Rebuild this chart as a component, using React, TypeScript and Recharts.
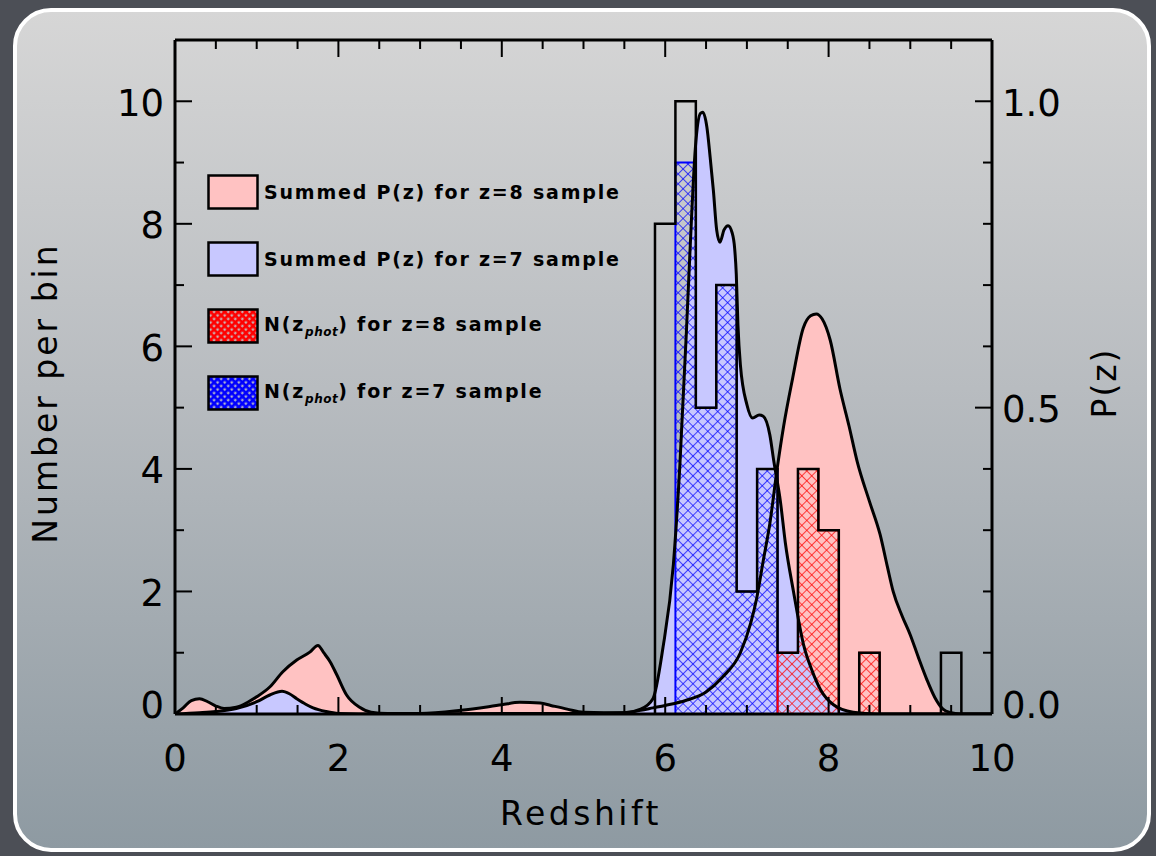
import React from 'react';
import { ComposedChart, Area, Line, XAxis, YAxis } from 'recharts';

// Summed P(z), z=8 sample
const PZ8_Z = [0, 0.1, 0.2, 0.3, 0.4, 0.5, 0.6, 0.75, 0.9, 1.0, 1.16, 1.32, 1.49, 1.65, 1.75, 1.82, 1.9, 1.98, 2.1, 2.26, 2.4, 2.6, 3.0, 3.5, 4.0, 4.22, 4.47, 4.6, 4.8, 5.0, 5.5, 5.7, 5.85, 6.0, 6.25, 6.5, 6.7, 6.92, 7.05, 7.12, 7.2, 7.28, 7.37, 7.45, 7.56, 7.69, 7.78, 7.85, 7.92, 8.02, 8.14, 8.25, 8.35, 8.5, 8.63, 8.72, 8.79, 8.9, 9.0, 9.1, 9.2, 9.3, 9.4, 9.5, 9.6, 10];
const PZ8_P = [0, 0.010, 0.022, 0.025, 0.020, 0.013, 0.009, 0.011, 0.020, 0.028, 0.044, 0.069, 0.088, 0.101, 0.112, 0.100, 0.085, 0.064, 0.031, 0.011, 0.003, 0.001, 0.001, 0.006, 0.015, 0.019, 0.018, 0.014, 0.008, 0.003, 0.002, 0.006, 0.010, 0.014, 0.022, 0.036, 0.060, 0.100, 0.150, 0.189, 0.250, 0.310, 0.400, 0.470, 0.548, 0.630, 0.650, 0.653, 0.645, 0.610, 0.530, 0.470, 0.412, 0.347, 0.293, 0.240, 0.200, 0.160, 0.129, 0.092, 0.057, 0.027, 0.008, 0.002, 0, 0];

// Summed P(z), z=7 sample
const PZ7_Z = [0, 0.3, 0.5, 0.75, 1.0, 1.16, 1.31, 1.4, 1.49, 1.6, 1.69, 1.85, 2.0, 2.5, 5.0, 5.5, 5.7, 5.85, 5.97, 6.1, 6.18, 6.26, 6.3, 6.37, 6.43, 6.46, 6.51, 6.55, 6.59, 6.63, 6.67, 6.72, 6.77, 6.82, 6.85, 6.87, 6.89, 6.92, 7.0, 7.07, 7.15, 7.2, 7.28, 7.33, 7.41, 7.47, 7.57, 7.69, 7.8, 7.9, 8.06, 8.3, 8.6, 10];
const PZ7_P = [0, 0.002, 0.004, 0.009, 0.020, 0.031, 0.037, 0.033, 0.025, 0.016, 0.010, 0.004, 0.001, 0, 0.001, 0.002, 0.008, 0.025, 0.106, 0.244, 0.407, 0.625, 0.745, 0.925, 0.980, 0.982, 0.958, 0.909, 0.854, 0.790, 0.770, 0.790, 0.797, 0.785, 0.760, 0.718, 0.636, 0.570, 0.505, 0.483, 0.488, 0.486, 0.456, 0.412, 0.347, 0.280, 0.200, 0.115, 0.070, 0.040, 0.015, 0.003, 0, 0];

// histogrammes N(z_phot), bins de 0.25
const BIN_W = 0.25;
const BIN_CENTRES = [6.0, 6.25, 6.5, 6.75, 7.0, 7.25, 7.5, 7.75, 8.0, 8.25, 8.5, 8.75, 9.0, 9.25, 9.5];
const N_ALL = [8, 10, 5, 7, 2, 4, 1, 4, 3, 0, 1, 0, 0, 0, 1];
const N_Z7 = [0, 9, 5, 7, 2, 4, 0, 0, 0, 0, 0, 0, 0, 0, 0];
const N_Z8 = [0, 0, 0, 0, 0, 0, 1, 4, 3, 0, 1, 0, 0, 0, 0];

const X_TICKS = [0, 0.5, 1, 1.5, 2, 2.5, 3, 3.5, 4, 4.5, 5, 5.5, 6, 6.5, 7, 7.5, 8, 8.5, 9, 9.5, 10];
const N_TICKS = [0, 1, 2, 3, 4, 5, 6, 7, 8, 9, 10];
const P_TICKS = [0, 0.1, 0.2, 0.3, 0.4, 0.5, 0.6, 0.7, 0.8, 0.9, 1.0];

const LEGEND = [
  { kind: 'pink', label: 'Summed P(z) for z=8 sample' },
  { kind: 'lblue', label: 'Summed P(z) for z=7 sample' },
  { kind: 'red', label: 'N(z', sub: 'phot', rest: ') for z=8 sample' },
  { kind: 'blue', label: 'N(z', sub: 'phot', rest: ') for z=7 sample' },
];

const FONT = '"DejaVu Sans", sans-serif';
const PINK = '#ffc2c2';
const LBLUE = '#c8c8ff';

const pz8 = PZ8_Z.map((z, i) => ({ z, p: PZ8_P[i] }));
const pz7 = PZ7_Z.map((z, i) => ({ z, p: PZ7_P[i] }));

function stepData(counts: number[]) {
  const pts = [{ z: BIN_CENTRES[0] - BIN_W / 2, n: 0 }];
  BIN_CENTRES.forEach((c, i) => pts.push({ z: c - BIN_W / 2, n: counts[i] }));
  pts.push({ z: BIN_CENTRES[BIN_CENTRES.length - 1] + BIN_W / 2, n: 0 });
  return pts;
}
const histAll = stepData(N_ALL);
const histZ7 = stepData(N_Z7);
const histZ8 = stepData(N_Z8);

// ─── ticks vers l'intérieur, façon IDL ───────────────────────────────────
function BottomTick(props: any) {
  const { x, y, payload } = props;
  const v = payload.value;
  const major = v % 2 === 0;
  return (
    <g>
      <line x1={x} x2={x} y1={y} y2={y - (major ? 17 : 9)} stroke="#000" strokeWidth={2} />
      {major && (
        <text x={x} y={y + 57} textAnchor="middle" fontSize={37} fontFamily={FONT} fill="#000">{v}</text>
      )}
    </g>
  );
}

function TopTick(props: any) {
  const { x, y, payload } = props;
  const major = payload.value % 2 === 0;
  return <line x1={x} x2={x} y1={y} y2={y + (major ? 17 : 9)} stroke="#000" strokeWidth={2} />;
}

function LeftTick(props: any) {
  const { x, y, payload } = props;
  const v = payload.value;
  const major = v % 2 === 0;
  return (
    <g>
      <line x1={x} x2={x + (major ? 17 : 9)} y1={y} y2={y} stroke="#000" strokeWidth={2} />
      {major && (
        <text x={x - 11} y={y + (v === 0 ? -9 : 2)} textAnchor="end" dominantBaseline="central"
          fontSize={37} fontFamily={FONT} fill="#000">{v}</text>
      )}
    </g>
  );
}

function RightTick(props: any) {
  const { x, y, payload } = props;
  const v = payload.value;
  const major = Math.round(v * 10) % 5 === 0;
  return (
    <g>
      <line x1={x} x2={x - (major ? 17 : 9)} y1={y} y2={y} stroke="#000" strokeWidth={2} />
      {major && (
        <text x={x + 10} y={y + (v === 0 ? -9 : 2)} textAnchor="start" dominantBaseline="central"
          fontSize={37} fontFamily={FONT} fill="#000">{v.toFixed(1)}</text>
      )}
    </g>
  );
}

function Swatch({ kind }: { kind: string }) {
  const fill = kind === 'pink' ? PINK : kind === 'lblue' ? LBLUE : `url(#leg-${kind})`;
  const col = kind === 'red' ? '#ff0000' : '#0000ff';
  return (
    <svg width={52} height={36} style={{ display: 'block' }}>
      {(kind === 'red' || kind === 'blue') && (
        <defs>
          <pattern id={`leg-${kind}`} width={5} height={5} patternUnits="userSpaceOnUse" patternTransform="rotate(45)">
            <rect width={5} height={5} fill={col} />
            <rect x={1.6} y={1.6} width={2.2} height={2.2} fill="#c4c6c8" />
          </pattern>
        </defs>
      )}
      <rect x={1.5} y={1.5} width={49} height={33} fill={fill} stroke="#000" strokeWidth={2.5} />
    </svg>
  );
}

const axisLine = { stroke: '#000', strokeWidth: 3 };

export default function App() {
  return (
    <div style={{ position: 'fixed', left: 0, top: 0, width: 1156, height: 856, background: '#4c4f56', overflow: 'hidden' }}>
      <div style={{
        position: 'absolute', left: 13, top: 8, width: 1138, height: 844, boxSizing: 'border-box',
        border: '4px solid #ffffff', borderRadius: 38,
        background: 'linear-gradient(to bottom, #d6d6d6 0%, #b8bcc0 45%, #8e9aa2 100%)',
      }} />
      <div style={{ position: 'absolute', left: 0, top: 0 }}>
        <ComposedChart width={1156} height={856} margin={{ top: 10, right: 74, bottom: 82, left: 105 }}>
          <defs>
            <pattern id="hatch-blue" width={7} height={7} patternUnits="userSpaceOnUse" patternTransform="rotate(45)">
              <line x1={0} y1={0} x2={7} y2={0} stroke="#0000ff" strokeWidth={1.4} />
              <line x1={0} y1={0} x2={0} y2={7} stroke="#0000ff" strokeWidth={1.4} />
            </pattern>
            <pattern id="hatch-red" width={7} height={7} patternUnits="userSpaceOnUse" patternTransform="rotate(45)">
              <line x1={0} y1={0} x2={7} y2={0} stroke="#ff0000" strokeWidth={1.4} />
              <line x1={0} y1={0} x2={0} y2={7} stroke="#ff0000" strokeWidth={1.4} />
            </pattern>
          </defs>
          <XAxis xAxisId="b" type="number" dataKey="z" domain={[0, 10]} allowDataOverflow ticks={X_TICKS} interval={0}
            tickSize={0} tickMargin={0} tickLine={false} tick={(p: any) => <BottomTick {...p} />} axisLine={axisLine} height={60} />
          <XAxis xAxisId="t" orientation="top" type="number" dataKey="z" domain={[0, 10]} allowDataOverflow ticks={X_TICKS} interval={0}
            tickSize={0} tickMargin={0} tickLine={false} tick={(p: any) => <TopTick {...p} />} axisLine={axisLine} height={30} />
          <YAxis yAxisId="n" type="number" domain={[0, 11]} allowDataOverflow ticks={N_TICKS} interval={0}
            tickSize={0} tickMargin={0} tickLine={false} tick={(p: any) => <LeftTick {...p} />} axisLine={axisLine} width={70} />
          <YAxis yAxisId="p" orientation="right" type="number" domain={[0, 1.1]} allowDataOverflow ticks={P_TICKS} interval={0}
            tickSize={0} tickMargin={0} tickLine={false} tick={(p: any) => <RightTick {...p} />} axisLine={axisLine} width={90} />

          <Area xAxisId="b" yAxisId="p" data={pz8} dataKey="p" type="monotone" fill={PINK} fillOpacity={1}
            stroke="none" dot={false} activeDot={false} isAnimationActive={false} />
          <Area xAxisId="b" yAxisId="p" data={pz7} dataKey="p" type="monotone" fill={LBLUE} fillOpacity={1}
            stroke="none" dot={false} activeDot={false} isAnimationActive={false} />
          <Area xAxisId="b" yAxisId="n" data={histZ7} dataKey="n" type="stepAfter" fill="url(#hatch-blue)" fillOpacity={1}
            stroke="#0000ff" strokeWidth={2} dot={false} activeDot={false} isAnimationActive={false} />
          <Area xAxisId="b" yAxisId="n" data={histZ8} dataKey="n" type="stepAfter" fill="url(#hatch-red)" fillOpacity={1}
            stroke="#ff0000" strokeWidth={2} dot={false} activeDot={false} isAnimationActive={false} />
          <Area xAxisId="b" yAxisId="n" data={histAll} dataKey="n" type="stepAfter" fill="none"
            stroke="#000" strokeWidth={2.5} dot={false} activeDot={false} isAnimationActive={false} />
          <Line xAxisId="b" yAxisId="p" data={pz8} dataKey="p" type="monotone" stroke="#000" strokeWidth={3}
            dot={false} activeDot={false} isAnimationActive={false} />
          <Line xAxisId="b" yAxisId="p" data={pz7} dataKey="p" type="monotone" stroke="#000" strokeWidth={3}
            dot={false} activeDot={false} isAnimationActive={false} />
        </ComposedChart>
      </div>

      {/* légende */}
      <div style={{ position: 'absolute', left: 207, top: 174, fontFamily: FONT, fontWeight: 'bold', fontSize: 19, color: '#000' }}>
        {LEGEND.map((l) => (
          <div key={l.kind} style={{ display: 'flex', alignItems: 'center', height: 36, marginBottom: 31 }}>
            <Swatch kind={l.kind} />
            <span style={{ marginLeft: 5, whiteSpace: 'nowrap', letterSpacing: 1.8 }}>
              {l.label}
              {l.sub && <sub style={{ fontSize: 12, fontStyle: 'italic', verticalAlign: -5, letterSpacing: 0.5 }}>{l.sub}</sub>}
              {l.rest}
            </span>
          </div>
        ))}
      </div>

      {/* titres d'axes */}
      <div style={{ position: 'absolute', left: 45, top: 393, transform: 'translate(-50%, -50%) rotate(-90deg)',
        fontFamily: FONT, fontSize: 33, letterSpacing: 3, whiteSpace: 'nowrap', color: '#000' }}>Number per bin</div>
      <div style={{ position: 'absolute', left: 1104, top: 383, transform: 'translate(-50%, -50%) rotate(-90deg)',
        fontFamily: FONT, fontSize: 33, letterSpacing: 2, whiteSpace: 'nowrap', color: '#000' }}>P(z)</div>
      <div style={{ position: 'absolute', left: 581, top: 813, transform: 'translate(-50%, -50%)',
        fontFamily: FONT, fontSize: 33, letterSpacing: 3.5, whiteSpace: 'nowrap', color: '#000' }}>Redshift</div>
    </div>
  );
}
